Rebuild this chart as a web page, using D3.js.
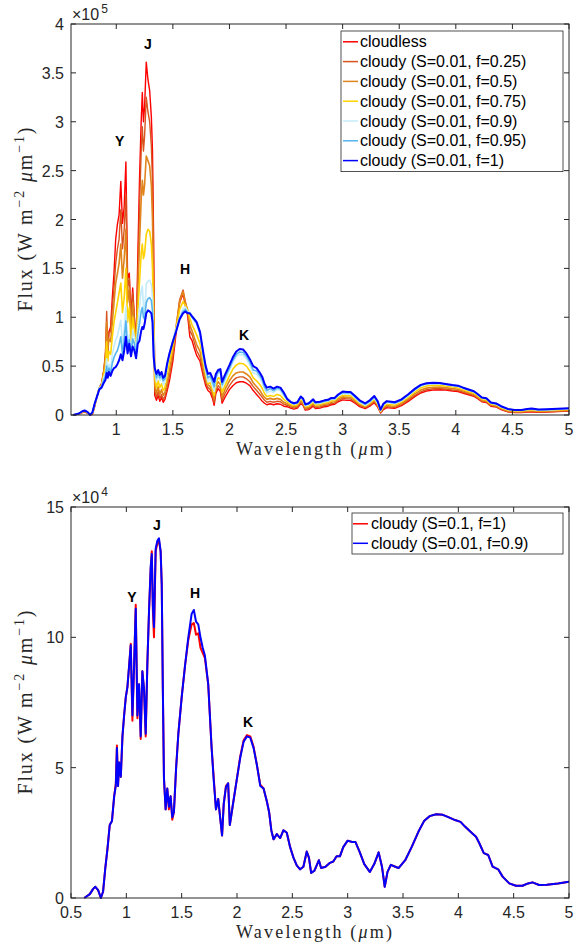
<!DOCTYPE html>
<html>
<head>
<meta charset="utf-8">
<script src="https://cdn.jsdelivr.net/npm/d3@7"></script>
<style>
	body { margin: 0; background: #fff; }
	svg { display: block; }
	.tickLabel { font-family: "Liberation Sans", Arial, sans-serif; font-size: 16px; fill: #262626; }
	.expLabel { font-family: "Liberation Sans", Arial, sans-serif; font-size: 16px; fill: #262626; }
	.axisLabel { font-family: "Liberation Serif", "Times New Roman", serif; font-size: 18px; fill: #262626; white-space: pre; }
	.axisLabel.yLabel { font-size: 20px; }
	.legendText { font-family: "Liberation Sans", Arial, sans-serif; font-size: 16px; fill: #000; }
	.bandLabel { font-family: "Liberation Sans", Arial, sans-serif; font-size: 14px; font-weight: bold; fill: #000; }
	.frame { fill: none; stroke: #262626; stroke-width: 1; }
	.legendBox { fill: #fff; stroke: #262626; stroke-width: 0.8; }
	.tick { stroke: #262626; stroke-width: 1; }
	.spectrum { fill: none; stroke-linejoin: round; }
</style>
</head>
<body>
<svg id="chart" width="581" height="950"></svg>
<script>

// wavelength grid (micron), shared by every spectrum
const wavelength = [
	0.62, 0.67, 0.70, 0.72, 0.745, 0.77, 0.79, 0.81, 0.83, 0.85,
	0.87, 0.89, 0.905, 0.915, 0.925, 0.935, 0.95, 0.965, 0.98, 0.995,
	1.01, 1.025, 1.04, 1.055, 1.07, 1.085,
	1.10, 1.115, 1.13, 1.145, 1.16, 1.175,
	1.19, 1.205, 1.22, 1.23, 1.24, 1.25, 1.265, 1.28, 1.295, 1.31, 1.32, 1.33, 1.34,
	1.355, 1.37, 1.385, 1.40, 1.415, 1.43,
	1.45, 1.47, 1.50, 1.53, 1.56, 1.59, 1.61, 1.63, 1.65, 1.67, 1.69, 1.71, 1.74, 1.77,
	1.79, 1.81, 1.83, 1.85, 1.865, 1.88, 1.90, 1.92, 1.935, 1.96,
	2.00, 2.03, 2.06, 2.09, 2.12, 2.15, 2.18, 2.21, 2.24, 2.27,
	2.29, 2.31, 2.33, 2.36, 2.39, 2.42, 2.45, 2.48,
	2.51, 2.54, 2.57, 2.60, 2.63, 2.65, 2.67, 2.70, 2.74, 2.76,
	2.80, 2.84, 2.87, 2.90, 2.93, 2.96, 3.00, 3.04, 3.07, 3.11,
	3.15, 3.20, 3.24, 3.28, 3.31, 3.335, 3.36, 3.39, 3.43, 3.46,
	3.52, 3.58, 3.64, 3.69, 3.74, 3.80, 3.86, 3.91, 3.97, 4.02,
	4.06, 4.12, 4.16, 4.19, 4.23, 4.27, 4.31, 4.36, 4.40, 4.46,
	4.52, 4.58, 4.63, 4.67, 4.73, 4.80, 4.90, 5.00
];

// flux values in units of 1e4 W m^-2 um^-1
const cloudless = [
	0, 0.1, 0.25, 0.3, 0.2, 0, 0.1, 0.9, 1.9, 2.8,
	3.2, 4.5, 6.0, 9.0, 6.5, 8.5, 9.0, 12.0, 14.5, 18.0,
	19.5, 20.5, 23.9, 19.6, 21.3, 25.9,
	14, 14.5, 10, 13, 10, 7.0,
	16, 24, 30, 33, 30, 31.5, 36.1, 34.3, 33.2, 30.5, 27, 18, 2.0,
	1.5, 2.0, 1.4, 1.8, 1.3, 1.6,
	2.5, 3.5, 5.5, 8.5, 11.5, 12.4, 11.2, 10.2, 8.0, 7.6, 6.8, 6.1, 5.5, 3.9,
	3.0, 2.5, 2.3, 1.7, 1.0, 2.2, 2.7, 2.4, 1.2, 1.8,
	2.6, 3.0, 3.3, 3.4, 3.4, 3.25, 3.0, 2.5, 2.1, 1.7,
	1.4, 1.2, 1.05, 1.15, 1.05, 1.15, 1.1, 0.9,
	0.85, 0.7, 0.6, 0.7, 1.15, 1.0, 0.5, 0.55, 0.9, 0.65,
	0.7, 0.85, 0.9, 1.05, 1.1, 1.35, 1.55, 1.5, 1.5, 1.2,
	0.85, 0.65, 0.9, 1.25, 0.8, 0.2, 0.55, 0.75, 0.7, 0.68,
	0.95, 1.4, 1.9, 2.25, 2.45, 2.55, 2.58, 2.55, 2.45, 2.4,
	2.25, 2.05, 1.9, 1.7, 1.35, 1.28, 0.9, 0.8, 0.55, 0.32,
	0.24, 0.24, 0.3, 0.33, 0.28, 0.3, 0.35, 0.4
];

const cloudyF025 = [
	0, 0.1, 0.28, 0.33, 0.22, 0, 0.15, 1.0, 1.9, 2.8,
	3.2, 4.6, 6.5, 10.6, 7.0, 8.5, 8.5, 11.0, 13.0, 15.5,
	17.0, 18.0, 21.0, 17.0, 19.0, 22.5,
	13, 14, 9.5, 12.5, 9.8, 7.0,
	14, 21, 27, 29.5, 27, 28.5, 32.5, 31, 30, 27.5, 24, 15, 2.5,
	1.8, 2.4, 1.7, 2.1, 1.6, 1.9,
	2.9, 4.0, 6.0, 9.0, 11.8, 12.8, 11.6, 10.6, 8.6, 8.2, 7.4, 6.6, 5.9, 4.2,
	3.3, 2.8, 2.6, 2.0, 1.3, 2.5, 3.0, 2.7, 1.5, 2.2,
	3.0, 3.5, 3.8, 3.9, 3.9, 3.7, 3.4, 2.9, 2.5, 2.1,
	1.8, 1.5, 1.3, 1.4, 1.3, 1.4, 1.35, 1.1,
	1.0, 0.82, 0.72, 0.82, 1.28, 1.12, 0.6, 0.66, 1.02, 0.76,
	0.82, 0.97, 1.02, 1.18, 1.22, 1.48, 1.7, 1.65, 1.65, 1.33,
	0.97, 0.76, 1.02, 1.38, 0.9, 0.27, 0.65, 0.86, 0.8, 0.78,
	1.06, 1.52, 2.02, 2.38, 2.58, 2.68, 2.7, 2.66, 2.56, 2.5,
	2.35, 2.14, 1.98, 1.78, 1.42, 1.35, 0.96, 0.86, 0.6, 0.36,
	0.28, 0.28, 0.35, 0.38, 0.32, 0.34, 0.39, 0.44
];

const cloudyF050 = [
	0, 0.12, 0.3, 0.37, 0.25, 0, 0.18, 1.05, 1.9, 2.8,
	3.1, 4.5, 6.0, 9.5, 6.5, 7.8, 7.5, 9.5, 11.5, 13.5,
	14.5, 15.5, 17.5, 14.0, 16.0, 19.0,
	11.5, 13, 8.5, 11.5, 9.3, 6.8,
	12.5, 17.5, 22, 24, 22.5, 23.5, 26.5, 26, 25.5, 23.5, 20, 12.5, 3.0,
	2.2, 2.9, 2.1, 2.6, 2.0, 2.3,
	3.4, 4.6, 6.5, 9.2, 11.6, 12.6, 11.5, 10.8, 9.2, 8.6, 7.9, 7.2, 6.5, 4.7,
	3.7, 3.1, 2.9, 2.3, 1.6, 2.9, 3.4, 3.1, 1.8, 2.6,
	3.5, 4.0, 4.3, 4.4, 4.4, 4.2, 3.9, 3.3, 2.9, 2.5,
	2.1, 1.8, 1.6, 1.7, 1.6, 1.7, 1.6, 1.3,
	1.15, 0.95, 0.83, 0.93, 1.42, 1.25, 0.7, 0.77, 1.15, 0.88,
	0.94, 1.1, 1.15, 1.32, 1.35, 1.63, 1.85, 1.8, 1.8, 1.46,
	1.08, 0.85, 1.12, 1.5, 1.0, 0.32, 0.76, 0.98, 0.92, 0.9,
	1.18, 1.66, 2.18, 2.55, 2.75, 2.84, 2.85, 2.8, 2.7, 2.63,
	2.47, 2.25, 2.09, 1.87, 1.5, 1.43, 1.03, 0.93, 0.66, 0.41,
	0.33, 0.33, 0.4, 0.43, 0.37, 0.39, 0.44, 0.49
];

const cloudyF075 = [
	0, 0.13, 0.32, 0.4, 0.27, 0, 0.2, 1.1, 1.9, 2.8,
	3.0, 4.2, 5.0, 7.5, 5.5, 6.5, 6.2, 8.0, 9.5, 10.5,
	11.5, 12.5, 13.5, 10.5, 12.0, 15.0,
	9.5, 11, 7.5, 10, 8.7, 6.5,
	10.5, 13.5, 16.5, 17.5, 16.0, 16.5, 18.5, 19.0, 18.8, 17.5, 15, 9.5, 3.8,
	2.8, 3.5, 2.8, 3.2, 2.5, 2.8,
	4.2, 5.4, 7.0, 9.0, 10.8, 11.6, 11.2, 10.7, 9.9, 9.2, 8.7, 8.2, 7.3, 5.3,
	4.1, 3.2, 3.3, 2.6, 2.0, 3.2, 3.8, 3.7, 2.3, 3.0,
	4.0, 4.7, 5.1, 5.3, 5.25, 5.0, 4.5, 3.8, 3.5, 3.1,
	2.7, 2.2, 1.9, 2.0, 1.9, 2.1, 2.0, 1.6,
	1.35, 1.1, 0.97, 1.07, 1.6, 1.4, 0.85, 0.92, 1.3, 1.02,
	1.07, 1.22, 1.28, 1.46, 1.48, 1.8, 2.02, 1.98, 1.98, 1.6,
	1.2, 0.93, 1.22, 1.63, 1.1, 0.38, 0.88, 1.13, 1.06, 1.03,
	1.32, 1.82, 2.37, 2.76, 2.96, 3.04, 3.03, 2.96, 2.86, 2.79,
	2.62, 2.38, 2.23, 1.99, 1.62, 1.55, 1.12, 1.02, 0.74, 0.5,
	0.41, 0.41, 0.49, 0.53, 0.44, 0.46, 0.51, 0.56
];

const cloudyF090 = [
	0, 0.15, 0.35, 0.43, 0.3, 0, 0.25, 1.15, 1.9, 2.8,
	2.95, 3.9, 4.3, 5.75, 4.3, 5.2, 4.65, 6.2, 7.0, 7.7,
	8.1, 8.9, 9.7, 7.0, 8.9, 11.1,
	7.0, 8.2, 6.2, 8.7, 8.0, 6.3,
	9.0, 11.0, 12.7, 13.2, 11.2, 10.4, 13.4, 13.7, 13.8, 13.3, 12.0, 8.0, 4.6,
	3.4, 4.2, 3.5, 3.9, 3.1, 3.3,
	5.0, 6.3, 7.7, 8.9, 10.0, 10.9, 11.05, 10.6, 10.5, 10.0, 9.6, 9.3, 8.2, 5.8,
	4.5, 3.4, 3.8, 3.0, 2.4, 3.6, 4.25, 4.4, 2.8, 3.5,
	4.6, 5.4, 6.0, 6.2, 6.15, 5.75, 5.1, 4.3, 4.2, 3.7,
	3.3, 2.6, 2.25, 2.45, 2.3, 2.6, 2.5, 1.95,
	1.55, 1.25, 1.1, 1.2, 1.78, 1.55, 0.96, 1.05, 1.45, 1.15,
	1.2, 1.35, 1.4, 1.6, 1.6, 1.95, 2.2, 2.15, 2.15, 1.75,
	1.3, 1.0, 1.3, 1.75, 1.2, 0.43, 1.0, 1.27, 1.2, 1.15,
	1.45, 1.97, 2.55, 2.95, 3.14, 3.21, 3.19, 3.1, 2.99, 2.92,
	2.74, 2.5, 2.35, 2.1, 1.72, 1.65, 1.2, 1.1, 0.82, 0.56,
	0.47, 0.47, 0.56, 0.6, 0.5, 0.51, 0.56, 0.62
];

const cloudyF095 = [
	0, 0.15, 0.37, 0.45, 0.3, 0, 0.27, 1.17, 1.9, 2.7,
	2.9, 3.6, 4.0, 5.0, 4.0, 4.8, 4.3, 5.3, 5.9, 6.3,
	6.6, 7.2, 8.0, 6.2, 7.7, 9.6,
	6.6, 7.7, 6.1, 7.8, 7.3, 6.0,
	8.2, 9.3, 10.6, 11.0, 10.0, 9.8, 11.5, 11.9, 12.0, 11.7, 10.6, 6.8, 4.7,
	3.8, 4.4, 3.8, 4.1, 3.5, 3.7,
	5.1, 6.3, 7.6, 8.7, 9.9, 10.6, 10.8, 10.5, 10.4, 10.0, 9.7, 9.4, 8.3, 6.1,
	4.8, 3.8, 4.0, 3.4, 2.9, 3.9, 4.4, 4.5, 3.1, 3.8,
	4.8, 5.6, 6.2, 6.45, 6.4, 6.0, 5.4, 4.6, 4.5, 4.0,
	3.6, 2.9, 2.5, 2.7, 2.5, 2.75, 2.65, 2.1,
	1.6, 1.3, 1.15, 1.25, 1.85, 1.62, 1.03, 1.12, 1.52, 1.22,
	1.28, 1.42, 1.48, 1.68, 1.68, 2.03, 2.3, 2.25, 2.25, 1.85,
	1.4, 1.1, 1.4, 1.85, 1.3, 0.5, 1.08, 1.35, 1.28, 1.22,
	1.52, 2.05, 2.62, 3.02, 3.19, 3.26, 3.23, 3.14, 3.03, 2.96,
	2.78, 2.54, 2.39, 2.14, 1.76, 1.68, 1.24, 1.13, 0.86, 0.59,
	0.5, 0.5, 0.58, 0.63, 0.53, 0.54, 0.6, 0.66
];

const cloudyF100 = [
	0, 0.15, 0.38, 0.46, 0.32, 0, 0.3, 1.2, 1.9, 2.6,
	2.8, 3.3, 3.6, 4.3, 3.8, 4.4, 4.0, 4.5, 4.8, 4.9,
	5.2, 5.6, 6.2, 5.6, 6.6, 8.0,
	6.3, 7.3, 6.0, 7.0, 6.6, 5.8,
	7.3, 7.6, 8.6, 9.0, 8.8, 9.3, 10.4, 10.7, 10.6, 10.4, 9.5, 6.0, 4.8,
	4.2, 4.6, 4.1, 4.4, 3.8, 4.0,
	5.3, 6.3, 7.5, 8.6, 9.8, 10.4, 10.6, 10.4, 10.4, 10.1, 9.8, 9.5, 8.5, 6.3,
	5.0, 4.2, 4.3, 3.8, 3.4, 4.2, 4.6, 4.7, 3.4, 4.1,
	5.1, 5.9, 6.5, 6.75, 6.7, 6.3, 5.7, 5.0, 4.8, 4.3,
	3.9, 3.2, 2.8, 2.9, 2.7, 2.9, 2.8, 2.3,
	1.65, 1.35, 1.2, 1.3, 1.9, 1.7, 1.1, 1.2, 1.6, 1.3,
	1.35, 1.5, 1.55, 1.75, 1.75, 2.1, 2.4, 2.35, 2.35, 1.95,
	1.5, 1.2, 1.5, 1.95, 1.4, 0.55, 1.15, 1.42, 1.35, 1.3,
	1.6, 2.12, 2.7, 3.08, 3.24, 3.3, 3.27, 3.18, 3.07, 3.0,
	2.82, 2.58, 2.43, 2.18, 1.8, 1.72, 1.28, 1.17, 0.9, 0.62,
	0.52, 0.52, 0.61, 0.66, 0.56, 0.58, 0.63, 0.69
];

// lower panel: S=0.1, f=1 (nearly identical to S=0.01, f=0.9)
const cloudyS01F1 = [
	0, 0.15, 0.35, 0.43, 0.3, 0, 0.25, 1.15, 1.9, 2.8,
	2.95, 3.9, 4.4, 5.85, 4.3, 5.2, 4.65, 6.2, 7.0, 7.7,
	8.1, 8.9, 9.75, 6.8, 8.9, 11.25,
	6.9, 8.2, 6.1, 8.7, 8.0, 6.2,
	9.0, 11.0, 12.6, 13.3, 11.0, 10.0, 13.3, 13.6, 13.7, 13.3, 12.0, 8.0, 4.6,
	3.4, 4.2, 3.4, 3.9, 3.0, 3.3,
	5.0, 6.3, 7.7, 8.9, 9.9, 10.5, 10.55, 10.1, 10.15, 9.6, 9.4, 9.2, 8.2, 5.8,
	4.6, 3.4, 3.8, 3.0, 2.4, 3.6, 4.3, 4.4, 2.8, 3.5,
	4.6, 5.45, 6.05, 6.25, 6.2, 5.8, 5.1, 4.35, 4.2, 3.7,
	3.3, 2.6, 2.25, 2.45, 2.3, 2.6, 2.5, 1.95,
	1.55, 1.25, 1.1, 1.2, 1.78, 1.55, 0.96, 1.05, 1.45, 1.15,
	1.2, 1.35, 1.4, 1.6, 1.6, 1.95, 2.2, 2.15, 2.15, 1.75,
	1.3, 1.0, 1.3, 1.75, 1.2, 0.43, 1.0, 1.27, 1.2, 1.15,
	1.45, 1.97, 2.55, 2.95, 3.14, 3.21, 3.19, 3.1, 2.99, 2.92,
	2.74, 2.5, 2.35, 2.1, 1.72, 1.65, 1.2, 1.1, 0.82, 0.56,
	0.47, 0.47, 0.56, 0.6, 0.5, 0.51, 0.56, 0.62
];

const topNames = ['cloudless', 'cloudy (S=0.01, f=0.25)', 'cloudy (S=0.01, f=0.5)', 'cloudy (S=0.01, f=0.75)',
	'cloudy (S=0.01, f=0.9)', 'cloudy (S=0.01, f=0.95)', 'cloudy (S=0.01, f=1)'];
const topColors = ['#ff0000', '#d9531e', '#e0841c', '#ffd200', '#c4ebfa', '#55b4ee', '#0000ff'];
const bottomNames = ['cloudy (S=0.1, f=1)', 'cloudy (S=0.01, f=0.9)'];
const bottomColors = ['#ff0000', '#0000ff'];

const topXTicks = [1, 1.5, 2, 2.5, 3, 3.5, 4, 4.5, 5];
const topYTicks = [0, 5, 10, 15, 20, 25, 30, 35, 40];
const topYTickLabels = ['0', '0.5', '1', '1.5', '2', '2.5', '3', '3.5', '4'];
const bottomXTicks = [0.5, 1, 1.5, 2, 2.5, 3, 3.5, 4, 4.5, 5];
const bottomYTicks = [0, 5, 10, 15];
const bottomYTickLabels = ['0', '5', '10', '15'];

const bands = ['Y', 'J', 'H', 'K'];
const bandTopAt = [[1.03, 28.0], [1.28, 38.0], [1.607, 14.9], [2.13, 8.2]];
const bandBottomAt = [[1.05, 11.55], [1.276, 14.3], [1.62, 11.7], [2.1, 6.75]];

document.addEventListener("DOMContentLoaded", function() {

	svg = d3.select('#chart');

	drawPanel({
		top: 24, bottom: 415,
		xDomain: [0.6, 5], yDomain: [0, 40],
		xTicks: topXTicks, yTicks: topYTicks, yTickLabels: topYTickLabels,
		exponent: '5',
		series: [cloudless, cloudyF025, cloudyF050, cloudyF075, cloudyF090, cloudyF095, cloudyF100],
		names: topNames, colors: topColors,
		widths: [1.4, 1.4, 1.6, 1.6, 1.6, 1.6, 2],
		bandAt: bandTopAt,
		legend: {x: 341, y: 31, w: 222, rowH: 19.8, lineX: 343, textX: 360}
	});

	drawPanel({
		top: 507, bottom: 898,
		xDomain: [0.5, 5], yDomain: [0, 15],
		xTicks: bottomXTicks, yTicks: bottomYTicks, yTickLabels: bottomYTickLabels,
		exponent: '4',
		series: [cloudyS01F1, cloudyF090],
		names: bottomNames, colors: bottomColors,
		widths: [2, 2],
		bandAt: bandBottomAt,
		legend: {x: 352, y: 513, w: 211, rowH: 19.5, lineX: 353, textX: 371}
	});
});

function drawPanel(p) {

	var left = 71, right = 569;

	p.series.forEach(function(s) {
		if (s.length !== wavelength.length) throw new Error('series length ' + s.length + ' vs ' + wavelength.length);
	});

	var x = d3.scaleLinear().domain(p.xDomain).range([left, right]);
	var y = d3.scaleLinear().domain(p.yDomain).range([p.bottom, p.top]);

	var g = svg.append('g');

	var line = d3.line()
		.x((d, i) => x(wavelength[i]))
		.y(d => y(d));

	g.selectAll('path.spectrum')
		.data(p.series)
		.enter()
		.append('path')
		.attr('class', 'spectrum')
		.attr('d', d => line(d))
		.attr('stroke', (d, i) => p.colors[i])
		.attr('stroke-width', (d, i) => p.widths[i]);

	// box + inward ticks on all four sides
	g.append('rect')
		.attr('class', 'frame')
		.attr('x', left)
		.attr('y', p.top)
		.attr('width', right - left)
		.attr('height', p.bottom - p.top);

	p.xTicks.forEach(function(t) {
		g.append('line').attr('class', 'tick')
			.attr('x1', x(t)).attr('x2', x(t))
			.attr('y1', p.bottom).attr('y2', p.bottom - 5);
		g.append('line').attr('class', 'tick')
			.attr('x1', x(t)).attr('x2', x(t))
			.attr('y1', p.top).attr('y2', p.top + 5);
		g.append('text').attr('class', 'tickLabel')
			.attr('x', x(t))
			.attr('y', p.bottom + 20)
			.attr('text-anchor', 'middle')
			.text(t);
	});

	p.yTicks.forEach(function(t, i) {
		g.append('line').attr('class', 'tick')
			.attr('x1', left).attr('x2', left + 5)
			.attr('y1', y(t)).attr('y2', y(t));
		g.append('line').attr('class', 'tick')
			.attr('x1', right).attr('x2', right - 5)
			.attr('y1', y(t)).attr('y2', y(t));
		g.append('text').attr('class', 'tickLabel')
			.attr('x', left - 7)
			.attr('y', y(t) + 6)
			.attr('text-anchor', 'end')
			.text(p.yTickLabels[i]);
	});

	// x10^n multiplier
	var ex = g.append('text')
		.attr('class', 'expLabel')
		.attr('x', left + 1)
		.attr('y', p.top - 4);
	ex.append('tspan').text('\u00d710');
	ex.append('tspan').attr('dy', -7).attr('dx', 2).attr('font-size', '12px').text(p.exponent);

	// axis labels
	var xl = g.append('text')
		.attr('class', 'axisLabel')
		.attr('x', 314)
		.attr('y', p.bottom + 40)
		.attr('text-anchor', 'middle')
		.attr('textLength', 156)
		.attr('lengthAdjust', 'spacing');
	xl.append('tspan').text('Wavelength (');
	xl.append('tspan').style('font-style', 'italic').text('\u03bc');
	xl.append('tspan').text('m)');

	var yl = g.append('text')
		.attr('class', 'axisLabel yLabel')
		.attr('transform', 'translate(32,' + (p.top + p.bottom) / 2 + ') rotate(-90)')
		.attr('text-anchor', 'middle')
		.attr('textLength', 184)
		.attr('lengthAdjust', 'spacing');
	yl.append('tspan').text('Flux (W m');
	yl.append('tspan').attr('dy', -8).attr('font-size', '14px').text('\u22122');
	yl.append('tspan').attr('dy', 8).text(' ');
	yl.append('tspan').style('font-style', 'italic').text('\u03bc');
	yl.append('tspan').text('m');
	yl.append('tspan').attr('dy', -8).attr('font-size', '14px').text('\u22121');
	yl.append('tspan').attr('dy', 8).text(')');

	// band annotations
	g.selectAll('text.bandLabel')
		.data(bands)
		.enter()
		.append('text')
		.attr('class', 'bandLabel')
		.attr('x', (d, i) => x(p.bandAt[i][0]))
		.attr('y', (d, i) => y(p.bandAt[i][1]) + 5)
		.attr('text-anchor', 'middle')
		.text(d => d);

	// legend
	var L = p.legend;
	var lg = g.append('g');
	lg.append('rect')
		.attr('class', 'legendBox')
		.attr('x', L.x)
		.attr('y', L.y)
		.attr('width', L.w)
		.attr('height', p.names.length * L.rowH + 2);

	var rows = lg.selectAll('g.row')
		.data(p.names)
		.enter()
		.append('g')
		.attr('transform', (d, i) => 'translate(0,' + (L.y + 10.8 + i * L.rowH) + ')');

	rows.append('line')
		.attr('x1', L.lineX)
		.attr('x2', L.lineX + 15)
		.attr('y1', 0)
		.attr('y2', 0)
		.attr('stroke', (d, i) => p.colors[i])
		.attr('stroke-width', 1.5);

	rows.append('text')
		.attr('class', 'legendText')
		.attr('x', L.textX)
		.attr('y', 5.5)
		.text(d => d);
}
</script>
</body>
</html>
